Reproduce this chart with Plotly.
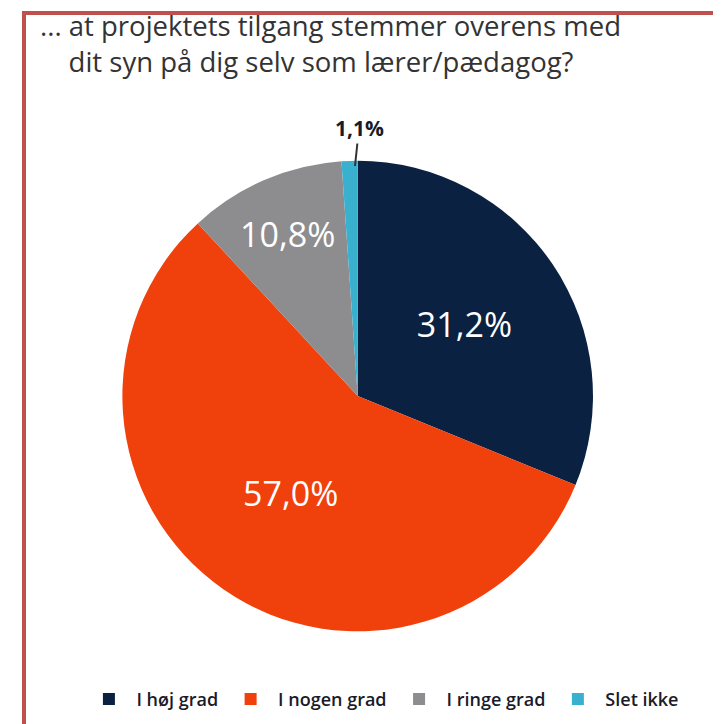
import plotly.graph_objects as go

categories = ["I høj grad", "I nogen grad", "I ringe grad", "Slet ikke"]
values = [31.2, 57.0, 10.8, 1.1]
value_labels = ["31,2%", "57,0%", "10,8%", ""]
small_label = "1,1%"
colors = ["#0b2142", "#f0400c", "#8d8d8f", "#3ab0cf"]

fig = go.Figure()
fig.add_trace(go.Pie(
    labels=categories,
    values=values,
    text=value_labels,
    textinfo="text",
    sort=False,
    direction="clockwise",
    rotation=0,
    marker=dict(colors=colors, line=dict(width=0)),
    textposition="inside",
    insidetextfont=dict(color="white", size=34, family="Open Sans"),
    insidetextorientation="horizontal",
    domain=dict(x=[0.1, 0.87], y=[0.139, 0.789]),
    hoverinfo="label+percent",
))

fig.update_layout(
    width=721, height=724,
    margin=dict(l=0, r=0, t=0, b=0),
    paper_bgcolor="white",
    plot_bgcolor="white",
    font=dict(family="Open Sans", color="#333333"),
    showlegend=True,
    legend=dict(
        orientation="h", x=0.52, xanchor="center", y=0.045, yanchor="middle",
        font=dict(size=18, color="#1a1a2a", family="Open Sans", weight=600),
        itemwidth=45,
    ),
    annotations=[
        dict(
            text="... at projektets tilgang stemmer overens med<br>&nbsp;&nbsp;&nbsp;&nbsp;dit syn på dig selv som lærer/pædagog?",
            x=30/721, y=1-35/724, xref="paper", yref="paper",
            xanchor="left", yanchor="middle", align="left", showarrow=False,
            font=dict(size=27.5, color="#333333", family="Open Sans"),
        ),
        dict(
            text=small_label,
            x=347/721, y=1-158/724, xref="paper", yref="paper",
            showarrow=True, arrowhead=0, arrowwidth=2, arrowcolor="#333333",
            ax=4, ay=-38, standoff=0,
            font=dict(size=21, color="#1a1a2a", family="Open Sans", weight="bold"),
        ),
    ],
    shapes=[
        dict(type="line", xref="paper", yref="paper", x0=14/721, x1=1, y0=1-5/724, y1=1-5/724,
             line=dict(color="#c0504d", width=4)),
        dict(type="line", xref="paper", yref="paper", x0=16/721, x1=16/721, y0=0, y1=1-3/724,
             line=dict(color="#c0504d", width=4)),
    ],
)

fig.write_html("out.html")
